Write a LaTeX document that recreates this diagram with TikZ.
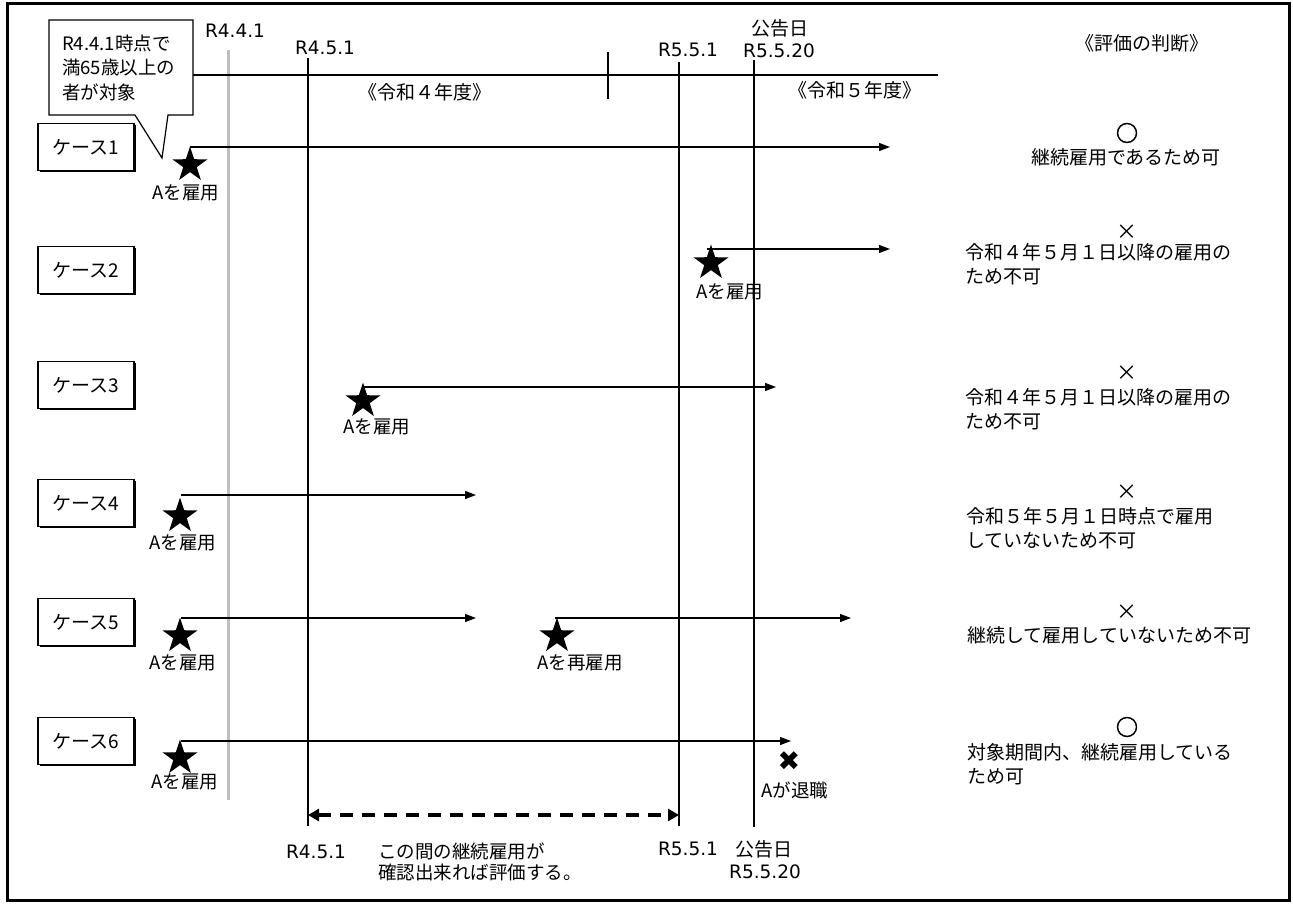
\documentclass[tikz,border=0pt]{standalone}
\usepackage{fontspec}
\setmainfont{Noto Sans CJK JP}
\newfontfamily\dejavu{DejaVu Sans}
\newfontfamily\okfont[FakeBold=2.5]{Noto Sans CJK JP}
\usetikzlibrary{shapes.geometric,arrows.meta,shadows}
\definecolor{lgray}{RGB}{191,191,191}
\begin{document}
\begin{tikzpicture}[x=1pt,y=-1pt,
  every node/.style={inner sep=0pt, font=\fontsize{19}{24}\selectfont},
  casebox/.style={draw, line width=1.5pt, fill=white, minimum width=96pt, minimum height=47pt,
    drop shadow={shadow xshift=1.6pt, shadow yshift=-1.6pt, fill=black, opacity=1}},
  thick line/.style={line width=2.6pt},
  thin line/.style={line width=1.2pt},
  arr/.style={line width=1.2pt, -{Triangle[length=11pt,width=8pt]}},
  starmark/.style={star, star points=5, star point ratio=2.6, fill=black, minimum size=37pt, inner sep=0pt},
  lbl/.style={font=\fontsize{18.5}{22}\selectfont},
  datelbl/.style={font=\dejavu\fontsize{18.5}{22}\selectfont},
  judge/.style={anchor=west, align=left, font=\fontsize{19}{24}\selectfont},
  okmark/.style={font=\okfont\fontsize{22}{24}\selectfont},
  ngmark/.style={font=\fontsize{21}{24}\selectfont}
]
\useasboundingbox (0,0) rectangle (1293,904);
% frame
\draw[line width=2.5pt] (7.5,3.5) rectangle (1289.5,900.5);

% coordinates of the time lines
\coordinate (gT) at (228,50);   \coordinate (gB) at (228,800);
\coordinate (aT) at (308,58);   \coordinate (aB) at (308,826);
\coordinate (bT) at (679,62);   \coordinate (bB) at (679,826);
\coordinate (cT) at (754,60);   \coordinate (cB) at (754,827);
\coordinate (hL) at (193,75);   \coordinate (hR) at (938,75);
\coordinate (tT) at (608,52);   \coordinate (tB) at (608,99);

\draw[lgray, line width=3pt] (gT) -- (gB);
\draw[thick line] (aT) -- (aB);
\draw[thick line] (bT) -- (bB);
\draw[thin line] (cT) -- (cB);
\draw[thick line] (hL) -- (hR);
\draw[line width=2pt] (tT) -- (tB);

% top labels
\node[datelbl] (lR441) at (235,31) {R4.4.1};
\node[datelbl] (lR451) at (325,48) {R4.5.1};
\node[datelbl] (lR551) at (688,50) {R5.5.1};
\node (lkoku) at (780,28) {公告日};
\node[datelbl] (lR5520) at (779,51) {R5.5.20};
\node (y4) at (425,92) {《令和４年度》};
\node (y5) at (855,90) {《令和５年度》};
\node (hyoka) at (1142,43) {《評価の判断》};

% callout
\draw[line width=1.2pt, fill=white] (49,20) -- (193,20) -- (193,115) -- (168,115) -- (162,158) -- (135,115) -- (49,115) -- cycle;
\node[anchor=west, align=left, font=\fontsize{18.5}{24.5}\selectfont] (callout) at (62,67.5) {R4.4.1時点で\\満65歳以上の\\者が対象};

% case boxes
\node[casebox] (k1) at (86,147) {ケース1};
\node[casebox] (k2) at (86,270) {ケース2};
\node[casebox] (k3) at (86,385) {ケース3};
\node[casebox] (k4) at (86,503) {ケース4};
\node[casebox] (k5) at (86,622) {ケース5};
\node[casebox] (k6) at (86,741) {ケース6};

% case 1
\coordinate (a1s) at (190,147); \coordinate (a1e) at (890,147);
\draw[arr] (a1s) -- (a1e);
\node[starmark] (s1) at (190,165) {};
\node[lbl] (t1) at (186,193) {Aを雇用};

% case 2
\coordinate (a2s) at (707,249); \coordinate (a2e) at (890,249);
\draw[arr] (a2s) -- (a2e);
\node[starmark] (s2) at (711,263) {};
\node[lbl] (t2) at (730,292) {Aを雇用};

% case 3
\coordinate (a3s) at (363,387); \coordinate (a3e) at (776,387);
\draw[arr] (a3s) -- (a3e);
\node[starmark] (s3) at (363,401) {};
\node[lbl] (t3) at (377,427) {Aを雇用};

% case 4
\coordinate (a4s) at (181,495); \coordinate (a4e) at (476,495);
\draw[arr] (a4s) -- (a4e);
\node[starmark] (s4) at (180,516) {};
\node[lbl] (t4) at (183,543) {Aを雇用};

% case 5
\coordinate (a5s) at (181,618); \coordinate (a5e) at (476,618);
\draw[arr] (a5s) -- (a5e);
\node[starmark] (s5) at (180,636) {};
\node[lbl] (t5) at (183,663) {Aを雇用};
\coordinate (a5s2) at (555,618); \coordinate (a5e2) at (851,618);
\draw[arr] (a5s2) -- (a5e2);
\node[starmark] (s5b) at (557,636) {};
\node[lbl] (t5b) at (580,663) {Aを再雇用};

% case 6
\coordinate (a6s) at (181,741); \coordinate (a6e) at (791,741);
\draw[arr] (a6s) -- (a6e);
\node[starmark] (s6) at (180,758) {};
\node[lbl] (t6) at (185,782) {Aを雇用};
\node[font=\dejavu\fontsize{27}{27}\selectfont] (x6) at (789,761) {✖};
\node[lbl] (t6b) at (795,790) {Aが退職};

% dashed period arrow
\coordinate (dL) at (308,815); \coordinate (dR) at (679,815);
\draw[line width=3.5pt, dash pattern=on 13pt off 9pt,
  {Triangle[length=11pt,width=12pt]}-{Triangle[length=11pt,width=12pt]}] (dL) -- (dR);

% bottom labels
\node[datelbl] (bR451) at (316,852) {R4.5.1};
\node[anchor=west, align=left, font=\fontsize{18.5}{20.5}\selectfont] (note) at (378,862) {この間の継続雇用が\\確認出来れば評価する。};
\node[datelbl] (bR551) at (688,849) {R5.5.1};
\node (bkoku) at (764,849) {公告日};
\node[datelbl] (bR5520) at (765,872) {R5.5.20};

% judgements
\node[okmark] (j1m) at (1127,133) {○};
\node (j1) at (1126,157) {継続雇用であるため可};
\node[ngmark] (j2m) at (1127,232) {×};
\node[judge] (j2) at (965,264) {令和４年５月１日以降の雇用の\\ため不可};
\node[ngmark] (j3m) at (1127,373) {×};
\node[judge] (j3) at (965,409) {令和４年５月１日以降の雇用の\\ため不可};
\node[ngmark] (j4m) at (1127,492) {×};
\node[judge] (j4) at (966,528) {令和５年５月１日時点で雇用\\していないため不可};
\node[ngmark] (j5m) at (1127,612) {×};
\node[judge] (j5) at (967,635) {継続して雇用していないため不可};
\node[okmark] (j6m) at (1127,727) {○};
\node[judge] (j6) at (967,764) {対象期間内、継続雇用している\\ため可};
\end{tikzpicture}
\end{document}
